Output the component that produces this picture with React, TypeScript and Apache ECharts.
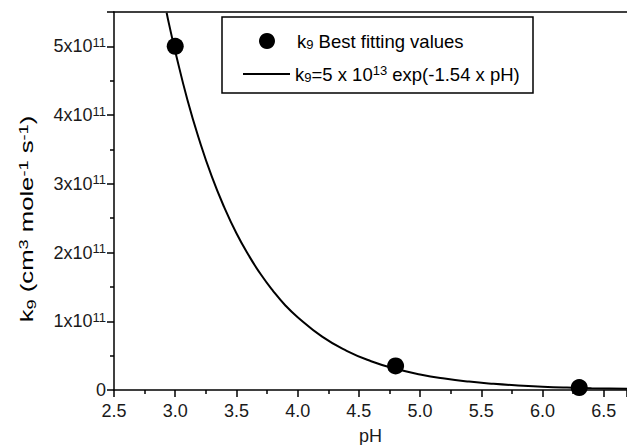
import React, { useEffect, useRef } from "react";
import * as echarts from "echarts";

const pointPH = [3.0, 4.8, 6.3];
const pointK9 = [5.0e11, 3.5e10, 3.5e9];

const fitPH = [2.93, 2.95, 3.0, 3.1, 3.2, 3.3, 3.4, 3.5, 3.6, 3.7, 3.8, 3.9, 4.0, 4.2, 4.4, 4.6, 4.8, 5.0, 5.2, 5.4, 5.6, 5.8, 6.0, 6.2, 6.4, 6.69];
const fitK9 = [5.49e11, 5.32e11, 4.93e11, 4.22e11, 3.62e11, 3.1e11, 2.66e11, 2.28e11, 1.96e11, 1.68e11, 1.44e11, 1.23e11, 1.06e11, 7.76e10, 5.7e10, 4.19e10, 3.08e10, 2.26e10, 1.66e10, 1.22e10, 9.0e9, 6.6e9, 4.85e9, 3.56e9, 2.62e9, 1.68e9];

const legendLabels = [
  "{n|k}{sub|9}{n| Best fitting values}",
  "{n|k}{sub|9}{n|=5 x 10}{sup|13}{n| exp(-1.54 x pH)}",
];
const yTitle = "{n|k}{sub|9}{n| (cm}{sup|3}{n| mole}{sup|-1}{n| s}{sup|-1}{n|)}";
const xTitle = "pH";

const FONT = "'Liberation Sans', Arial, sans-serif";
const TXT = "#1a1a1a";

const richBase = (size: number, small: number) => ({
  n: { fontSize: size, fontFamily: FONT, color: TXT },
  sup: { fontSize: small, fontFamily: FONT, color: TXT, padding: [0, 0, Math.round(size * 0.45), 0] },
  sub: { fontSize: small, fontFamily: FONT, color: TXT, padding: [Math.round(size * 0.4), 0, 0, 0] },
});

export default function App() {
  const ref = useRef<HTMLDivElement>(null);
  useEffect(() => {
    if (!ref.current) return;
    const chart = echarts.init(ref.current, null, { renderer: "svg" });
    const fit = fitPH.map((x, i) => [x, fitK9[i]]);
    const pts = pointPH.map((x, i) => [x, pointK9[i]]);
    const axisColor = "#000";
    chart.setOption({
      animation: false,
      backgroundColor: "#fff",
      grid: { left: 114, right: 0, top: 12, bottom: 55, containLabel: false, outerBoundsMode: "none" },
      xAxis: [
        {
          type: "value",
          min: 2.5,
          max: 6.69,
          interval: 0.5,
          name: xTitle,
          nameLocation: "middle",
          nameGap: 37,
          nameTextStyle: { fontSize: 18, fontFamily: FONT, color: TXT },
          axisLine: { lineStyle: { color: axisColor, width: 1.5 } },
          axisTick: { show: true, inside: false, length: 7, lineStyle: { color: axisColor, width: 1.5 } },
          minorTick: { show: true, splitNumber: 2, length: 4, lineStyle: { color: axisColor, width: 1.5 } },
          splitLine: { show: false },
          axisLabel: {
            showMaxLabel: false,
            fontSize: 18,
            fontFamily: FONT,
            color: TXT,
            margin: 12,
            formatter: (v: number) => v.toFixed(1),
          },
        },
        {
          type: "value",
          position: "top",
          min: 2.5,
          max: 6.69,
          axisLine: { show: true, lineStyle: { color: axisColor, width: 1.5 } },
          axisTick: { show: false },
          axisLabel: { show: false },
          splitLine: { show: false },
        },
      ],
      yAxis: {
        type: "value",
        min: 0,
        max: 5.5e11,
        interval: 1e11,
        axisLine: { show: true, lineStyle: { color: axisColor, width: 1.5 } },
        axisTick: { show: true, length: 7, lineStyle: { color: axisColor, width: 1.5 } },
        minorTick: { show: true, splitNumber: 2, length: 4, lineStyle: { color: axisColor, width: 1.5 } },
        splitLine: { show: false },
        axisLabel: {
          showMaxLabel: false,
          margin: 8,
          formatter: (v: number) => (v === 0 ? "{n|0}" : `{n|${Math.round(v / 1e11)}x10}{sup|11}`),
          rich: richBase(18, 13),
        },
      },
      graphic: [
        {
          type: "text",
          x: 27,
          y: 219,
          rotation: Math.PI / 2,
          scaleX: 1.35,
          scaleY: 1,
          style: {
            text: yTitle,
            rich: richBase(19, 13.5),
            align: "center",
            verticalAlign: "middle",
            fontSize: 19,
            fontFamily: FONT,
          },
        },
        {
          type: "rect",
          shape: { x: 222, y: 17, width: 311, height: 76 },
          style: { fill: "#fff", stroke: "#000", lineWidth: 1.5 },
          z: 100,
        },
        {
          type: "circle",
          shape: { cx: 267, cy: 41, r: 8 },
          style: { fill: "#000" },
          z: 101,
        },
        {
          type: "line",
          shape: { x1: 243, y1: 74, x2: 290, y2: 74 },
          style: { stroke: "#000", lineWidth: 2 },
          z: 101,
        },
        {
          type: "text",
          x: 297,
          y: 41,
          z: 101,
          style: { text: legendLabels[0], rich: richBase(18.5, 13), verticalAlign: "middle", fontSize: 18.5, fontFamily: FONT },
        },
        {
          type: "text",
          x: 295,
          y: 74,
          z: 101,
          style: { text: legendLabels[1], rich: richBase(18.5, 13), verticalAlign: "middle", fontSize: 18.5, fontFamily: FONT },
        },
      ],
      series: [
        {
          type: "line",
          data: fit,
          smooth: true,
          showSymbol: false,
          symbol: "none",
          lineStyle: { color: "#000", width: 2 },
        },
        {
          type: "scatter",
          data: pts,
          symbol: "circle",
          symbolSize: 17,
          itemStyle: { color: "#000", opacity: 1 },
          clip: false,
        },
      ],
    });
    return () => chart.dispose();
  }, []);
  return <div ref={ref} style={{ width: 627, height: 445, position: "absolute", left: 0, top: 0 }} />;
}
